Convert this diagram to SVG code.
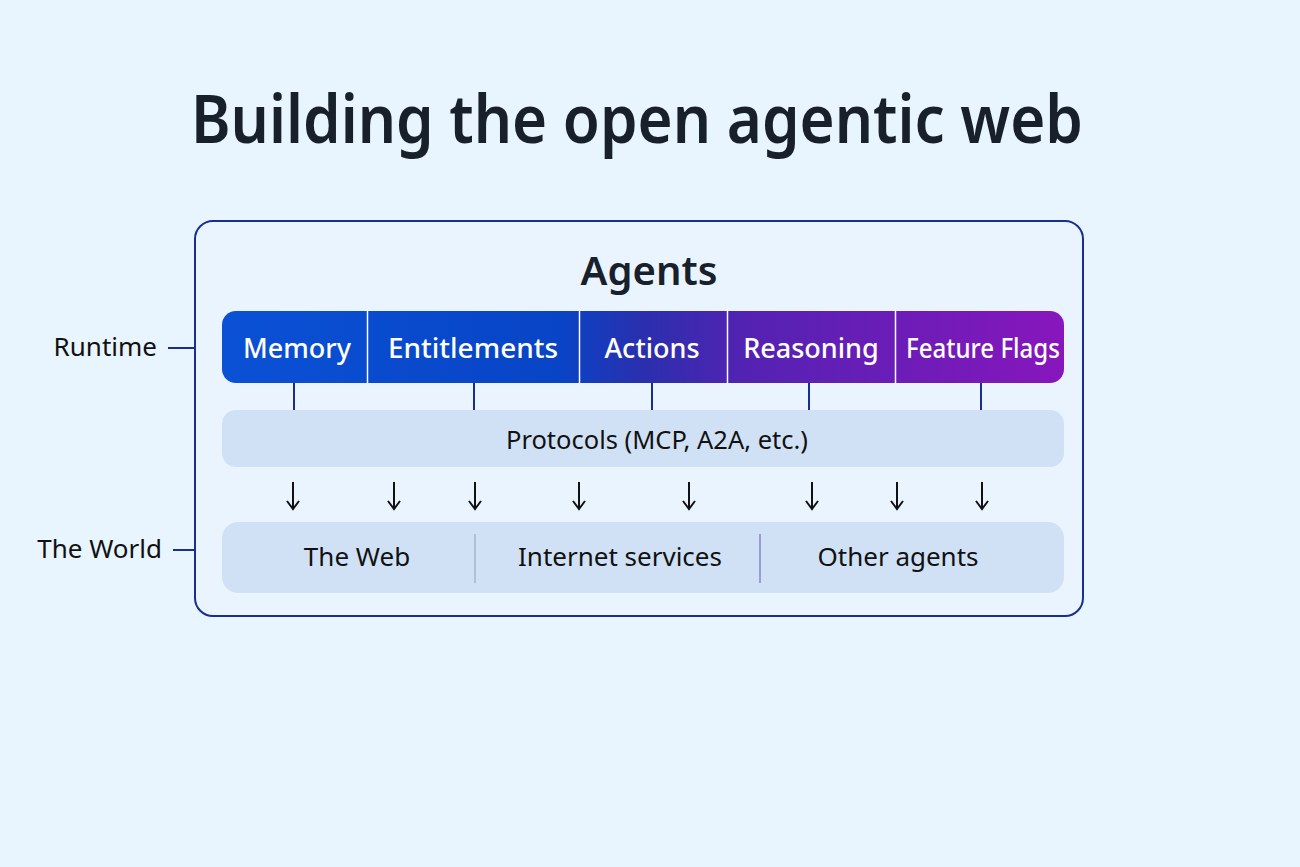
<svg xmlns="http://www.w3.org/2000/svg" width="1300" height="867" viewBox="0 0 1300 867">
  <defs>
    <linearGradient id="barGrad" x1="222" y1="0" x2="1064" y2="0" gradientUnits="userSpaceOnUse">
      <stop offset="0" stop-color="#0a51d6"/>
      <stop offset="0.4" stop-color="#0844c6"/>
      <stop offset="0.5" stop-color="#2a2fae"/>
      <stop offset="0.62" stop-color="#5322b3"/>
      <stop offset="1" stop-color="#8716bd"/>
    </linearGradient>
    <marker id="arrowHead" viewBox="0 0 12 14" refX="10" refY="7" markerWidth="12" markerHeight="14" markerUnits="userSpaceOnUse" orient="auto">
      <path d="M2,1 L10,7 L2,13" fill="none" stroke="#111" stroke-width="2"/>
    </marker>
    <style>
      text { font-family: "Noto Sans", "Open Sans", "DejaVu Sans", sans-serif; }
      .title { font-size: 66px; font-weight: 600; fill: #17202b; }
      .heading { font-size: 40px; font-weight: 600; fill: #17202b; }
      .seg { font-size: 27px; font-weight: 500; fill: #ffffff; }
      .band { font-size: 25.5px; fill: #111; }
      .world { font-size: 26px; fill: #111; }
      .side { font-size: 26px; fill: #111; }
      .conn { stroke: #1a2e8f; stroke-width: 2; fill: none; }
      .arrow { stroke: #111; stroke-width: 2; fill: none; }
      .divider { stroke: #ffffff; stroke-width: 1.5; }
    </style>
  </defs>
  <rect x="0" y="0" width="1300" height="867" fill="#e8f4fe"/>

  <g id="title">
    <text class="title" x="637" y="143" text-anchor="middle" textLength="892" lengthAdjust="spacingAndGlyphs">Building the open agentic web</text>
  </g>

  <g id="frame">
    <rect x="195" y="221" width="888" height="395" rx="18" fill="#eaf4fe" stroke="#1a2e8f" stroke-width="2"/>
    <text class="heading" x="649" y="285" text-anchor="middle">Agents</text>
  </g>

  <g id="runtime-bar">
    <rect x="222" y="311" width="842" height="72" rx="14" fill="url(#barGrad)"/>
    <line class="divider" x1="367.5" y1="311" x2="367.5" y2="383"/>
    <line class="divider" x1="579.5" y1="311" x2="579.5" y2="383"/>
    <line class="divider" x1="727.5" y1="311" x2="727.5" y2="383"/>
    <line class="divider" x1="895.5" y1="311" x2="895.5" y2="383"/>
  </g>
  <g id="memory"><text class="seg" x="297" y="358" text-anchor="middle">Memory</text></g>
  <g id="entitlements"><text class="seg" x="473" y="358" text-anchor="middle" textLength="170" lengthAdjust="spacingAndGlyphs">Entitlements</text></g>
  <g id="actions"><text class="seg" x="652" y="358" text-anchor="middle">Actions</text></g>
  <g id="reasoning"><text class="seg" x="811" y="358" text-anchor="middle">Reasoning</text></g>
  <g id="feature-flags"><text class="seg" x="983" y="358" text-anchor="middle" textLength="154" lengthAdjust="spacingAndGlyphs">Feature Flags</text></g>

  <g id="protocols">
    <rect x="222" y="410" width="842" height="57" rx="14" fill="#d0e1f6"/>
    <text class="band" x="657" y="449" text-anchor="middle">Protocols (MCP, A2A, etc.)</text>
  </g>

  <g id="world">
    <rect x="222" y="522" width="842" height="71" rx="16" fill="#d0e1f6"/>
    <line x1="475" y1="534" x2="475" y2="583" stroke="#a9b4c4" stroke-width="1.5"/>
    <line x1="760" y1="534" x2="760" y2="583" stroke="#8a84cc" stroke-width="1.5"/>
  </g>
  <g id="the-web"><text class="world" x="357" y="566" text-anchor="middle">The Web</text></g>
  <g id="internet-services"><text class="world" x="620" y="566" text-anchor="middle">Internet services</text></g>
  <g id="other-agents"><text class="world" x="898" y="566" text-anchor="middle">Other agents</text></g>

  <g id="label-runtime"><text class="side" x="157" y="356" text-anchor="end">Runtime</text></g>
  <g id="label-world"><text class="side" x="162" y="558" text-anchor="end">The World</text></g>

  <g id="connectors">
    <line class="conn" x1="168" y1="348" x2="195" y2="348"/>
    <line class="conn" x1="173" y1="550" x2="195" y2="550"/>
    <line class="conn" x1="294" y1="383" x2="294" y2="410"/>
    <line class="conn" x1="474" y1="383" x2="474" y2="410"/>
    <line class="conn" x1="652" y1="383" x2="652" y2="410"/>
    <line class="conn" x1="809" y1="383" x2="809" y2="410"/>
    <line class="conn" x1="981" y1="383" x2="981" y2="410"/>
    <line class="arrow" x1="293" y1="482" x2="293" y2="509" marker-end="url(#arrowHead)"/>
    <line class="arrow" x1="394" y1="482" x2="394" y2="509" marker-end="url(#arrowHead)"/>
    <line class="arrow" x1="475" y1="482" x2="475" y2="509" marker-end="url(#arrowHead)"/>
    <line class="arrow" x1="579" y1="482" x2="579" y2="509" marker-end="url(#arrowHead)"/>
    <line class="arrow" x1="689" y1="482" x2="689" y2="509" marker-end="url(#arrowHead)"/>
    <line class="arrow" x1="812" y1="482" x2="812" y2="509" marker-end="url(#arrowHead)"/>
    <line class="arrow" x1="897" y1="482" x2="897" y2="509" marker-end="url(#arrowHead)"/>
    <line class="arrow" x1="982" y1="482" x2="982" y2="509" marker-end="url(#arrowHead)"/>
  </g>
</svg>
